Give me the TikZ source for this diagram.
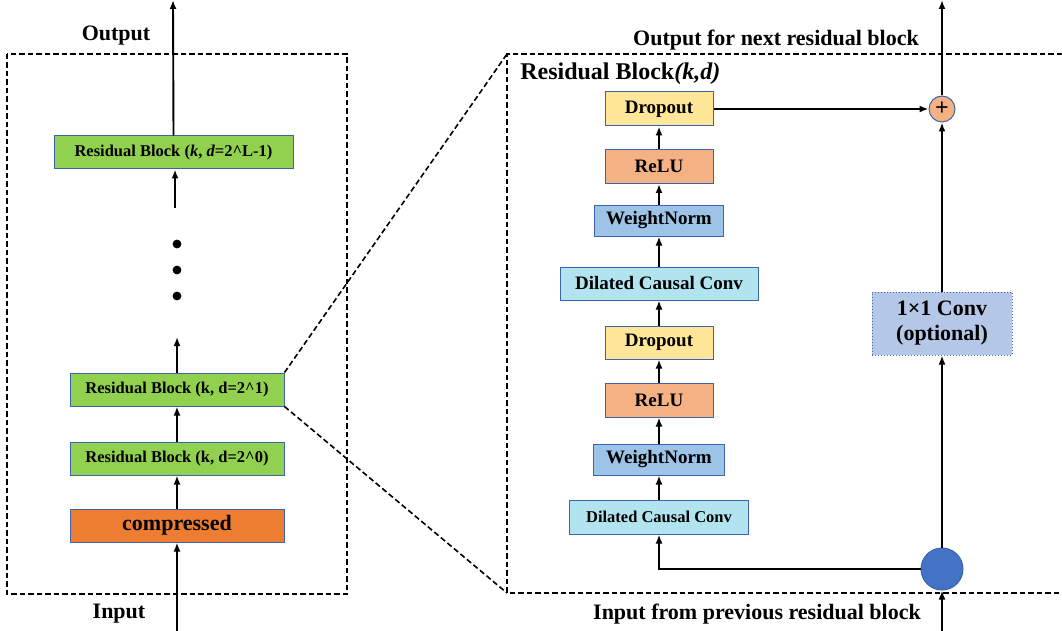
\documentclass[tikz,border=0pt]{standalone}
\usepackage{fontspec}
\setmainfont{Liberation Serif}
\usetikzlibrary{arrows.meta}

\definecolor{rbgreen}{HTML}{92D050}
\definecolor{cmporange}{HTML}{ED7D31}
\definecolor{dropyellow}{HTML}{FFE699}
\definecolor{relusalmon}{HTML}{F4B183}
\definecolor{wnblue}{HTML}{9DC3E6}
\definecolor{dccyan}{HTML}{B1E4EE}
\definecolor{convblue}{HTML}{B4C7E7}
\definecolor{dotblue}{HTML}{4472C4}
\definecolor{blkline}{HTML}{3C64AC}

\begin{document}
\begin{tikzpicture}[x=1pt,y=-1pt,line width=1.9pt,
        >={Latex[length=9pt,width=7pt]},
        blk/.style={draw=blkline,line width=1pt,inner sep=0pt,minimum height=33pt,
            font=\fontsize{19}{22}\selectfont\bfseries},
        rb/.style={blk,fill=rbgreen,font=\fontsize{16.5}{19}\selectfont\bfseries},
        lbl/.style={font=\fontsize{22}{26}\selectfont\bfseries},
        frame/.style={line width=1.6pt,dash pattern=on 5.5pt off 3pt}]
                \useasboundingbox (0,0) rectangle (1062,631);

                % stack of residual blocks
                \draw[frame] (7,54) rectangle (347,594);
                \node[lbl] (OUT) at (116,36) {Output};
                \node[lbl] (IN) at (119,614) {Input};
                \node[rb,minimum width=239pt] (RBL) at (173.5,152.5) {Residual Block (\textit{k}, \textit{d}=2\textasciicircum L-1)};
                \node[rb,minimum width=214pt] (RB1) at (177,389.5) {Residual Block (k, d=2\textasciicircum 1)};
                \node[rb,minimum width=214pt] (RB0) at (177,458.5) {Residual Block (k, d=2\textasciicircum 0)};
                \node[blk,fill=cmporange,minimum width=214pt,font=\fontsize{22}{26}\selectfont\bfseries] (CMP) at (177,525.5) {compressed};
                \coordinate (top) at (173,0);
                \coordinate (gap1) at (175,208);
                \coordinate (gap2) at (177,337);
                \coordinate (bot) at (177,631);
                \fill (177,244) circle (4.4pt);
                \fill (177,270) circle (4.4pt);
                \fill (177,296) circle (4.4pt);
                \draw [->] (RBL.north) -- (top);
                \draw [->] (gap1) -- (RBL.south -| gap1);
                \draw [->] (RB1.north) -- (gap2);
                \draw [->] (RB0.north) -- (RB1.south);
                \draw [->] (CMP.north) -- (RB0.south);
                \draw [->] (bot) -- (CMP.south);

                % inside one residual block
                \draw[frame] (1062,54) -- (507,54) -- (507,593) -- (1062,593);
                \draw[frame] (RB1.north east) -- (507,54);
                \draw[frame] (RB1.south east) -- (507,593);
                \node[lbl] (NXT) at (776,40) {Output for next residual block};
                \node[lbl] (PRV) at (757,614) {Input from previous residual block};
                \node[anchor=west,font=\fontsize{24}{28}\selectfont\bfseries] (TTL) at (516,74) {Residual Block\textit{(k,d)}};
                \node[blk,fill=dropyellow,minimum width=108pt,minimum height=34pt] (D1) at (659,109) {Dropout};
                \node[blk,fill=relusalmon,minimum width=108pt,minimum height=34pt] (R1) at (659,166.5) {ReLU};
                \node[blk,fill=wnblue,minimum width=129pt,minimum height=31pt] (W1) at (659,220.5) {WeightNorm};
                \node[blk,fill=dccyan,minimum width=198pt] (C1) at (659,283.5) {Dilated Causal Conv};
                \node[blk,fill=dropyellow,minimum width=108pt] (D2) at (659,342.5) {Dropout};
                \node[blk,fill=relusalmon,minimum width=108pt,minimum height=34pt] (R2) at (659,400) {ReLU};
                \node[blk,fill=wnblue,minimum width=131pt,minimum height=31pt] (W2) at (659,459.5) {WeightNorm};
                \node[blk,fill=dccyan,minimum width=179pt,minimum height=34pt,font=\fontsize{16.5}{19}\selectfont\bfseries] (C2) at (659,517) {Dilated Causal Conv};
                \node[blk,fill=convblue,dotted,minimum width=140pt,minimum height=63pt,align=center,
                    font=\fontsize{22}{25}\selectfont\bfseries] (ONE) at (942,323.5) {1×1 Conv\\(optional)};
                \node[circle,draw=blkline,line width=1pt,fill=relusalmon,minimum size=26pt,inner sep=0pt,
                    font=\fontsize{24}{24}\selectfont\bfseries] (ADD) at (942,109) {+};
                \node[circle,draw=blkline,line width=1pt,fill=dotblue,minimum size=42pt,inner sep=0pt] (SPL) at (942,569) {};
                \coordinate (up) at (942,0);
                \coordinate (down) at (942,631);
                \draw [->] (C2.north) -- (W2.south);
                \draw [->] (W2.north) -- (R2.south);
                \draw [->] (R2.north) -- (D2.south);
                \draw [->] (D2.north) -- (C1.south);
                \draw [->] (C1.north) -- (W1.south);
                \draw [->] (W1.north) -- (R1.south);
                \draw [->] (R1.north) -- (D1.south);
                \draw [->] (D1.east) -- (ADD.west);
                \draw [->] (ADD.north) -- (up);
                \draw [->] (ONE.north) -- (ADD.south);
                \draw [->] (SPL.north) -- (ONE.south);
                \draw [->] (SPL.west) -| (C2.south);
                \draw [->] (down) -- (SPL.south);
            \end{tikzpicture}
\end{document}
